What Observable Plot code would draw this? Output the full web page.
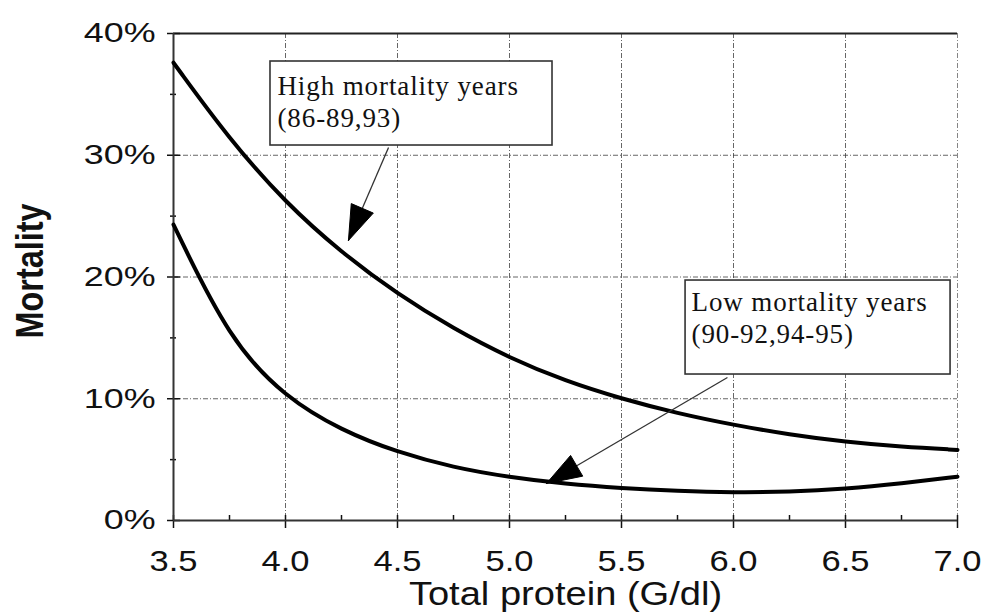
<!DOCTYPE html>
<html>
<head>
<meta charset="utf-8">
<script src="https://cdn.jsdelivr.net/npm/d3@7"></script>
<script src="https://cdn.jsdelivr.net/npm/@observablehq/plot@0.6"></script>
<style>
  html, body { margin: 0; padding: 0; background: #fff; }
  #chart svg { display: block; }
</style>
</head>
<body>
<div id="chart"></div>
<script>
// Fitted mortality curves against serum total protein
const protein       = [3.5, 3.75, 4.0, 4.25, 4.5, 4.75, 5.0, 5.25, 5.5, 5.75, 6.0, 6.25, 6.5, 6.75, 7.0];
const highMortality = [37.6, 31.3, 26.1, 22.0, 18.6, 15.75, 13.35, 11.45, 10.0, 8.8, 7.85, 7.05, 6.45, 6.05, 5.8];
const lowMortality  = [24.3, 14.8, 10.1, 7.4, 5.6, 4.35, 3.55, 3.0, 2.65, 2.42, 2.3, 2.35, 2.6, 3.05, 3.6];

// Axis ticks and grid
const xTicks      = [3.5, 4.0, 4.5, 5.0, 5.5, 6.0, 6.5, 7.0];
const xMinorTicks = [3.5, 3.75, 4.0, 4.25, 4.5, 4.75, 5.0, 5.25, 5.5, 5.75, 6.0, 6.25, 6.5, 6.75, 7.0];
const yTicks      = [0, 10, 20, 30, 40];
const yMinorTicks = [5, 15, 25, 35];
const xGrid       = [4.0, 4.5, 5.0, 5.5, 6.0, 6.5];
const yGrid       = [10, 20, 30];

// Callout boxes, their text, and the arrows pointing at each curve
const noteLabels = ["High mortality years\n(86-89,93)", "Low mortality years\n(90-92,94-95)"];
const boxLeft    = [3.933, 5.786];
const boxRight   = [5.192, 6.969];
const boxTop     = [37.7, 19.71];
const boxBottom  = [30.8, 11.99];
const textX      = [3.964, 5.8125];
const textY      = [36.84, 19.10];
const arrowFromX = [4.46, 5.973];
const arrowFromY = [30.64, 11.75];
const arrowToX   = [4.281, 5.165];
const arrowToY   = [23.0, 3.04];

const W = 981, H = 615;
const mL = 173, mR = 24, mT = 33, mB = 95;
const xDomain = [3.5, 7.0], yDomain = [0, 40];
const kx = (W - mL - mR) / (xDomain[1] - xDomain[0]); // px per unit of protein
const ky = (H - mT - mB) / (yDomain[1] - yDomain[0]); // px per percent

const curves = protein.flatMap((p, i) => [
  {group: "high", protein: p, mortality: highMortality[i]},
  {group: "low", protein: p, mortality: lowMortality[i]}
]);

const notes = noteLabels.map((label, i) => ({
  label, x1: boxLeft[i], x2: boxRight[i], y1: boxBottom[i], y2: boxTop[i], tx: textX[i], ty: textY[i],
  fromX: arrowFromX[i], fromY: arrowFromY[i], toX: arrowToX[i], toY: arrowToY[i]
}));

// Solid triangular arrowheads, built in screen space and mapped back to data units
const headLength = 35, headHalfWidth = 12;
const heads = notes.flatMap((n, id) => {
  const vx = (n.toX - n.fromX) * kx, vy = -(n.toY - n.fromY) * ky;
  const len = Math.hypot(vx, vy), ux = vx / len, uy = vy / len;
  const bx = -ux * headLength, by = -uy * headLength;
  const px = -uy * headHalfWidth, py = ux * headHalfWidth;
  const pts = [[0, 0], [bx + px, by + py], [bx - px, by - py], [0, 0]];
  return pts.map(([ox, oy]) => ({id, x: n.toX + ox / kx, y: n.toY - oy / ky}));
});

const gridStyle = {stroke: "#333", strokeWidth: 1, strokeDasharray: "5,2,1,2", strokeOpacity: 0.75};

const chart = Plot.plot({
  width: W, height: H,
  marginLeft: mL, marginRight: mR, marginTop: mT, marginBottom: mB,
  x: {domain: xDomain},
  y: {domain: yDomain},
  style: {fontFamily: "'Liberation Sans', Arial, sans-serif", background: "#fff", color: "#111"},
  marks: [
    Plot.ruleX(xGrid, gridStyle),
    Plot.ruleY(yGrid, gridStyle),
    Plot.ruleX([7.0], {...gridStyle, strokeOpacity: 0.6}),
    Plot.ruleY([40], {stroke: "#222", strokeWidth: 1.8}),
    Plot.axisX(xMinorTicks, {tickSize: -5, tickFormat: () => "", label: null, strokeWidth: 1.5}),
    Plot.axisX(xTicks, {tickSize: 8, tickPadding: 21, tickFormat: d3.format(".1f"), fontSize: 30, label: null, strokeWidth: 1.5}),
    Plot.axisY(yMinorTicks, {tickSize: 3, tickFormat: () => "", label: null, strokeWidth: 1.5}),
    Plot.axisY(yMinorTicks, {tickSize: -3, tickFormat: () => "", label: null, strokeWidth: 1.5}),
    Plot.axisY(yTicks, {tickSize: -7, tickFormat: () => "", label: null, strokeWidth: 1.5}),
    Plot.axisY(yTicks, {tickSize: 6, tickPadding: 12, tickFormat: d => `${d}%`, fontSize: 28, label: null, strokeWidth: 1.5}),
    Plot.ruleX([3.5], {stroke: "#333", strokeWidth: 2}),
    Plot.ruleY([0], {stroke: "#333", strokeWidth: 2}),
    Plot.line(curves, {x: "protein", y: "mortality", z: "group", curve: "basis", stroke: "#000", strokeWidth: 4}),
    Plot.rect(notes, {x1: "x1", x2: "x2", y1: "y1", y2: "y2", fill: "#fff", stroke: "#333", strokeWidth: 1.6}),
    Plot.text(notes, {x: "tx", y: "ty", text: "label", textAnchor: "start", lineAnchor: "top",
      fontFamily: "'Liberation Serif', 'Times New Roman', serif", fontSize: 27, lineHeight: 1.19, fill: "#111"}),
    Plot.link(notes, {x1: "fromX", y1: "fromY", x2: "toX", y2: "toY", stroke: "#333", strokeWidth: 1.3}),
    Plot.line(heads, {x: "x", y: "y", z: "id", fill: "#000", stroke: "#000", strokeWidth: 1, curve: "linear"}),
    Plot.text(["Total protein (G/dl)"], {frameAnchor: "bottom", dy: 60, lineAnchor: "top", textAnchor: "middle",
      fontSize: 34, fill: "#111"}),
    Plot.text(["Mortality"], {frameAnchor: "left", rotate: -90, dx: -158, dy: -6, lineAnchor: "top", textAnchor: "middle",
      fontSize: 39, fontWeight: "bold", fill: "#111"})
  ]
});

document.getElementById("chart").append(chart);

// Widen or narrow glyphs to the printed proportions
function stretch(selection, factor) {
  selection.each(function () {
    const len = this.getComputedTextLength();
    if (len > 0) {
      this.setAttribute("textLength", len * factor);
      this.setAttribute("lengthAdjust", "spacingAndGlyphs");
    }
  });
}
const svg = d3.select(chart);
stretch(svg.selectAll('g[aria-label="x-axis tick label"] text'), 1.15);
stretch(svg.selectAll('g[aria-label="y-axis tick label"] text'), 1.28);
svg.selectAll("text").each(function () {
  if (this.textContent === "Total protein (G/dl)") stretch(d3.select(this), 1.12);
  if (this.textContent === "Mortality") stretch(d3.select(this), 0.83);
});
svg.selectAll("g[font-family*='Serif'] text").style("letter-spacing", "0.9px");
</script>
</body>
</html>
